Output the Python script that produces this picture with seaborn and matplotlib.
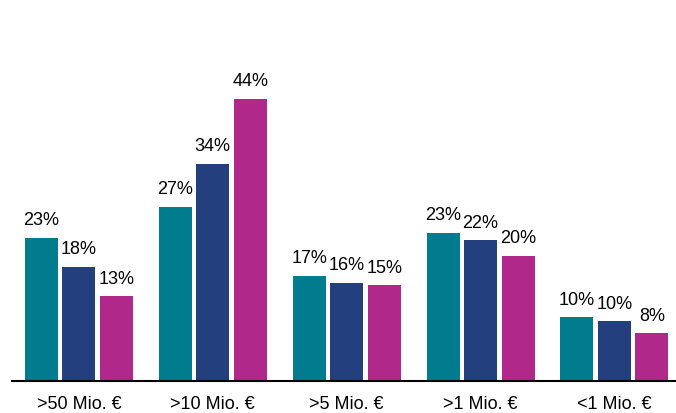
import matplotlib
matplotlib.use("Agg")
import matplotlib.pyplot as plt
import seaborn as sns
import pandas as pd

categories = [">50 Mio. €", ">10 Mio. €", ">5 Mio. €", ">1 Mio. €", "<1 Mio. €"]
series = ["A", "B", "C"]
values_a = [22.3, 27.1, 16.4, 23.1, 9.9]
values_b = [17.8, 33.8, 15.3, 21.9, 9.3]
values_c = [13.2, 44.0, 14.9, 19.5, 7.4]
labels_a = ["23%", "27%", "17%", "23%", "10%"]
labels_b = ["18%", "34%", "16%", "22%", "10%"]
labels_c = ["13%", "44%", "15%", "20%", "8%"]
colors = ["#007C8F", "#233F7E", "#B0288A"]

rows = []
for s, vals in zip(series, [values_a, values_b, values_c]):
    for c, v in zip(categories, vals):
        rows.append({"cat": c, "series": s, "value": v})
df = pd.DataFrame(rows)

sns.set_style("white")
plt.rcParams["font.family"] = ["Liberation Sans", "DejaVu Sans"]

fig = plt.figure(figsize=(6.76, 4.14), dpi=100)
ax = fig.add_axes([12 / 676, 32 / 414, 664 / 676, 382 / 414])
sns.barplot(data=df, x="cat", y="value", hue="series", order=categories,
            hue_order=series, palette=colors, saturation=1, width=0.84, gap=0.12,
            linewidth=0, ax=ax, legend=False, errorbar=None)

for cont, labs in zip(ax.containers, [labels_a, labels_b, labels_c]):
    ax.bar_label(cont, labels=labs, padding=7, fontsize=13, color="black")

ax.set_xlim(-0.5, 4.46)
ax.set_ylim(0, 59.5)
ax.set_xlabel("")
ax.set_ylabel("")
ax.set_yticks([])
for sp in ["left", "right", "top"]:
    ax.spines[sp].set_visible(False)
ax.spines["bottom"].set_color("black")
ax.spines["bottom"].set_linewidth(1.5)
ax.tick_params(axis="x", length=0, pad=10, labelsize=13, colors="black")

fig.savefig("out.png", dpi=100)
